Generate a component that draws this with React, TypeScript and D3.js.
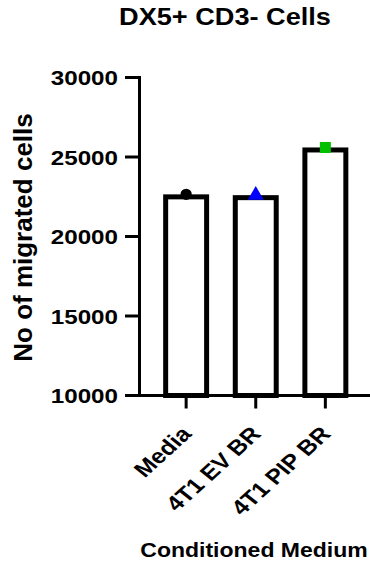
import React from 'react';
import * as d3 from 'd3';

const categories = ['Media', '4T1 EV BR', '4T1 PIP BR'];
const values = [22650, 22600, 25600];
const yTicks = [10000, 15000, 20000, 25000, 30000];
const markerColors = ['#000000', '#0000ff', '#00c000'];
const markerShapes = [d3.symbolCircle, d3.symbolTriangle, d3.symbolSquare];

const W = 370;
const H = 565;
const font = 'Arial, "Liberation Sans", sans-serif';
// the exported figure is a bit wider than tall, text looks stretched sideways
const SX = 1.18;

function Label({x, y, rotate = 0, anchor = 'middle', size, children}: any) {
  return (
    <text transform={`translate(${x},${y}) scale(${SX},1) rotate(${rotate})`} textAnchor={anchor}
      fontFamily={font} fontWeight="bold" fontSize={size}>{children}</text>
  );
}

export default function App() {
  const yscale = d3.scaleLinear().domain([10000, 30000]).range([395.5, 77.5]);
  const xscale = d3.scaleBand().domain(categories).range([139.5, 372]).padding(0.34);
  const sw = 5;

  return (
    <svg width={W} height={H} style={{position: 'absolute', left: 0, top: 0, background: '#fff'}}>
      <Label x={225} y={25} size={23}>DX5+ CD3- Cells</Label>

      {/* bars */}
      {values.map((v, i) => {
        const x = xscale(categories[i])!;
        return (
          <rect key={i} x={x + sw / 2} y={yscale(v) + sw / 2}
            width={xscale.bandwidth() - sw} height={yscale(10000) - yscale(v) - sw / 2}
            fill="#fff" stroke="#000" strokeWidth={sw} />
        );
      })}

      {/* points */}
      {values.map((v, i) => {
        const cx = xscale(categories[i])! + xscale.bandwidth() / 2;
        const size = i === 1 ? 110 : i === 2 ? 121 : 100;
        return (
          <path key={i} d={d3.symbol(markerShapes[i], size)()!}
            transform={`translate(${cx},${yscale(v)})`} fill={markerColors[i]} />
        );
      })}

      {/* y axis */}
      <line x1={139.5} x2={139.5} y1={yscale(30000) - 1.5} y2={yscale(10000) + 1.5} stroke="#000" strokeWidth={3} />
      {yTicks.map(t => (
        <g key={t}>
          <line x1={125} x2={139.5} y1={yscale(t)} y2={yscale(t)} stroke="#000" strokeWidth={3} />
          <Label x={118} y={yscale(t) + 7.5} anchor="end" size={20.5}>{t}</Label>
        </g>
      ))}

      {/* x axis */}
      <line x1={138} x2={W} y1={yscale(10000)} y2={yscale(10000)} stroke="#000" strokeWidth={3} />
      {categories.map(c => {
        const cx = xscale(c)! + xscale.bandwidth() / 2;
        return (
          <g key={c}>
            <line x1={cx} x2={cx} y1={yscale(10000)} y2={yscale(10000) + 13} stroke="#000" strokeWidth={3} />
            <Label x={cx + 6.5} y={435} rotate={-47} anchor="end" size={21}>{c}</Label>
          </g>
        );
      })}

      <text transform={`translate(32,237.5) rotate(-90)`} textAnchor="middle" fontFamily={font}
        fontWeight="bold" fontSize={26}>No of migrated cells</text>
      <Label x={254} y={557} size={19.5}>Conditioned Medium</Label>
    </svg>
  );
}
